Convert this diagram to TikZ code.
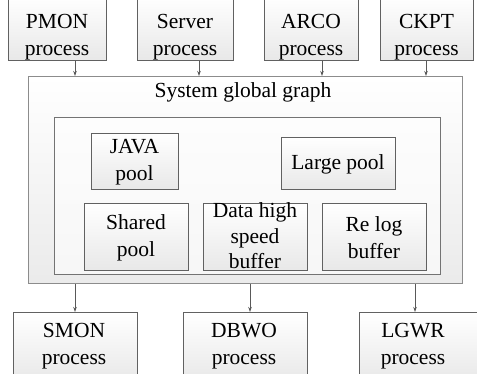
\documentclass[tikz,border=0pt]{standalone}
\usepackage{fontspec}
\setmainfont{Liberation Serif}
\usetikzlibrary{arrows.meta}
\begin{document}
\begin{tikzpicture}[x=1pt,y=-1pt,
  box/.style={draw=black!62, line width=0.8pt, top color=white, bottom color=black!9, inner sep=0pt, anchor=north west},
  lbl/.style={font=\fontsize{21.5}{27}\selectfont, align=center, inner sep=0pt},
  arr/.style={draw=black!65, line width=0.7pt, -{Stealth[length=5pt,width=3.5pt]}}]
\useasboundingbox (0,0) rectangle (477,373);
% outer and inner frames
\node[box, draw=black!45, line width=1.3pt, bottom color=black!8, minimum width=434pt, minimum height=207pt] (sga) at (28,76) {};
\node[lbl, anchor=base] (sgat) at (243,97) {System global graph};
\node[draw=black!55, line width=0.8pt, fill=white, fill opacity=0.6, inner sep=0pt, anchor=north west, minimum width=386pt, minimum height=157pt] (inner) at (54,117) {};
% top process boxes
\node[box, minimum width=98pt, minimum height=64pt] (pmon) at (8,-4) {};
\node[box, minimum width=96pt, minimum height=64pt] (server) at (137,-4) {};
\node[box, minimum width=94pt, minimum height=64pt] (arco) at (264,-4) {};
\node[box, minimum width=93pt, minimum height=64pt] (ckpt) at (380,-4) {};
\node[lbl] (pmont) at (57,37) {PMON\\process};
\node[lbl] (servert) at (185,37) {Server\\process};
\node[lbl] (arcot) at (311,37) {ARCO\\process};
\node[lbl] (ckptt) at (426.5,37) {CKPT\\process};
% inner pools
\node[box, minimum width=87pt, minimum height=56pt] (java) at (91,133) {};
\node[lbl] (javat) at (134.5,162) {JAVA\\pool};
\node[box, minimum width=114pt, minimum height=52pt] (large) at (281,137) {};
\node[lbl] (larget) at (338,164) {Large pool};
\node[box, minimum width=104pt, minimum height=67pt] (shared) at (84,203) {};
\node[lbl] (sharedt) at (136,238) {Shared\\pool};
\node[box, minimum width=104pt, minimum height=67pt] (data) at (203,203) {};
\node[lbl, font=\fontsize{21.5}{25.5}\selectfont] (datat) at (255,236) {Data high\\speed\\buffer};
\node[box, minimum width=104pt, minimum height=67pt] (relog) at (322,203) {};
\node[lbl] (relogt) at (374,238) {Re log\\buffer};
% bottom process boxes
\node[box, minimum width=124pt, minimum height=70pt] (smon) at (13,312) {};
\node[lbl] (smont) at (74,346) {SMON\\process};
\node[box, minimum width=124pt, minimum height=70pt] (dbwo) at (183,312) {};
\node[lbl] (dbwot) at (244,346) {DBWO\\process};
\node[box, minimum width=124pt, minimum height=70pt] (lgwr) at (359,312) {};
\node[lbl] (lgwrt) at (413,346) {LGWR\\process};
% arrow columns
\coordinate (a1) at (75,0);
\coordinate (a2) at (199,0);
\coordinate (a3) at (322,0);
\coordinate (a4) at (426,0);
\coordinate (b1) at (75,0);
\coordinate (b2) at (250,0);
\coordinate (b3) at (415,0);
\draw[arr] (pmon.south -| a1) -- (sga.north -| a1);
\draw[arr] (server.south -| a2) -- (sga.north -| a2);
\draw[arr] (arco.south -| a3) -- (sga.north -| a3);
\draw[arr] (ckpt.south -| a4) -- (sga.north -| a4);
\draw[arr] (sga.south -| b1) -- (smon.north -| b1);
\draw[arr] (sga.south -| b2) -- (dbwo.north -| b2);
\draw[arr] (sga.south -| b3) -- (lgwr.north -| b3);
\end{tikzpicture}
\end{document}
